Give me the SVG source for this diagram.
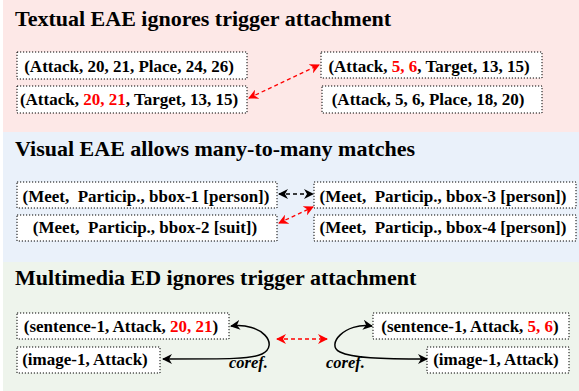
<svg xmlns="http://www.w3.org/2000/svg" width="579" height="391" viewBox="0 0 579 391">
<defs>
<style>
.title{font-family:"Liberation Serif",serif;font-weight:bold;font-size:22px;fill:#000}
.t{font-family:"Liberation Serif",serif;font-weight:bold;font-size:17px;fill:#000;white-space:pre}
.r{fill:#ff0000}
.box{fill:#fff;stroke:#000;stroke-width:1;stroke-dasharray:1.2 1.8}
.coref{font-family:"Liberation Serif",serif;font-weight:bold;font-style:italic;font-size:16.5px;fill:#000}
.rd{fill:none;stroke:#ff0000;stroke-width:1.3;stroke-dasharray:4 3}
.kd{fill:none;stroke:#000;stroke-width:1.3;stroke-dasharray:4 3}
.ks{fill:none;stroke:#000;stroke-width:1.5}
</style>
<marker id="ar" viewBox="0 0 10 10" refX="9" refY="5" markerWidth="10" markerHeight="10" markerUnits="userSpaceOnUse" orient="auto-start-reverse"><path d="M0,0 L10,5 L0,10 L3,5 Z" fill="#ff0000"/></marker>
<marker id="ak" viewBox="0 0 10 10" refX="9" refY="5" markerWidth="10" markerHeight="10" markerUnits="userSpaceOnUse" orient="auto-start-reverse"><path d="M0,0 L10,5 L0,10 L3,5 Z" fill="#000"/></marker>
</defs>
<rect x="3" y="0" width="576" height="132" fill="#fde8e7"/>
<rect x="3" y="132" width="576" height="130" fill="#eaf1fa"/>
<rect x="3" y="262" width="576" height="129" fill="#eef4ec"/>
<text class="title" x="15" y="26">Textual EAE ignores trigger attachment</text>
<text class="title" x="15" y="156">Visual EAE allows many-to-many matches</text>
<text class="title" x="15" y="285">Multimedia ED ignores trigger attachment</text>
<g id="n1"><rect class="box" x="17" y="52" width="230" height="27"/><text class="t" x="129" y="72" text-anchor="middle">(Attack, 20, 21, Place, 24, 26)</text></g>
<g id="n2"><rect class="box" x="17" y="86" width="230" height="27"/><text class="t" x="129" y="105" text-anchor="middle">(Attack, <tspan class="r">20, 21</tspan>, Target, 13, 15)</text></g>
<g id="n3"><rect class="box" x="321" y="52" width="221" height="26"/><text class="t" x="429" y="72" text-anchor="middle">(Attack, <tspan class="r">5, 6</tspan>, Target, 13, 15)</text></g>
<g id="n4"><rect class="box" x="322" y="86" width="220" height="27"/><text class="t" x="428" y="105" text-anchor="middle">(Attack, 5, 6, Place, 18, 20)</text></g>
<g id="n5"><rect class="box" x="17" y="182" width="260" height="26"/><text class="t" x="146" y="202" text-anchor="middle">(Meet,  Particip., bbox-1 [person])</text></g>
<g id="n6"><rect class="box" x="17" y="215" width="260" height="26"/><text class="t" x="145" y="233" text-anchor="middle">(Meet,  Particip., bbox-2 [suit])</text></g>
<g id="n7"><rect class="box" x="314" y="182" width="262" height="26"/><text class="t" x="443" y="202" text-anchor="middle">(Meet,  Particip., bbox-3 [person])</text></g>
<g id="n8"><rect class="box" x="314" y="215" width="262" height="26"/><text class="t" x="443" y="233" text-anchor="middle">(Meet,  Particip., bbox-4 [person])</text></g>
<g id="n9"><rect class="box" x="17" y="313" width="212" height="26"/><text class="t" x="121" y="332" text-anchor="middle">(sentence-1, Attack, <tspan class="r">20, 21</tspan>)</text></g>
<g id="n10"><rect class="box" x="17" y="347" width="143" height="26"/><text class="t" x="85" y="365" text-anchor="middle">(image-1, Attack)</text></g>
<g id="n11"><rect class="box" x="373" y="313" width="196" height="26"/><text class="t" x="470" y="332" text-anchor="middle">(sentence-1, Attack, <tspan class="r">5, 6</tspan>)</text></g>
<g id="n12"><rect class="box" x="427" y="347" width="142" height="26"/><text class="t" x="496" y="365" text-anchor="middle">(image-1, Attack)</text></g>
<g id="connectors">
<path class="rd" d="M249,98 L319,65" marker-start="url(#ar)" marker-end="url(#ar)"/>
<path class="kd" d="M279,194 L313,194" marker-start="url(#ak)" marker-end="url(#ak)"/>
<path class="rd" d="M279,223 L313,207" marker-start="url(#ar)" marker-end="url(#ar)"/>
<path class="rd" d="M277,339 L327,339" marker-start="url(#ar)" marker-end="url(#ar)"/>
<path class="ks" d="M231,326 C262,322 280,345 262,354 C252,359 230,359 163,359" marker-start="url(#ak)" marker-end="url(#ak)"/>
<path class="ks" d="M372,326 C345,322 325,345 340,352 C352,358 380,359 427,359" marker-start="url(#ak)" marker-end="url(#ak)"/>
<text class="coref" x="229" y="368">coref.</text>
<text class="coref" x="326" y="368">coref.</text>
</g>
</svg>
